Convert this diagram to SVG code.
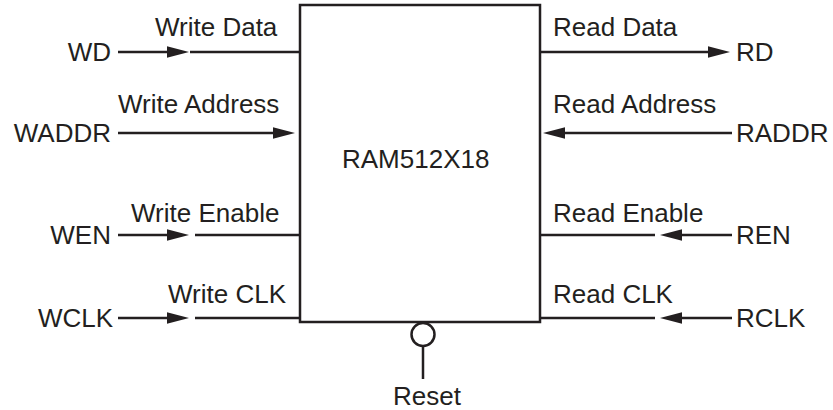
<svg xmlns="http://www.w3.org/2000/svg" width="833" height="410" viewBox="0 0 833 410">
<style>
text{font-family:"Liberation Sans",Arial,sans-serif;font-size:26px;fill:#231f20}
.w{stroke:#231f20;stroke-width:2.5;fill:none}
.e{text-anchor:end}
</style>
<defs>
<marker id="ah" markerUnits="userSpaceOnUse" markerWidth="23" markerHeight="12" refX="0" refY="5.75" orient="auto" overflow="visible">
<path d="M0,0 L22,5.75 L0,11.5 z" fill="#231f20"/>
</marker>
</defs>
<rect width="833" height="410" fill="#fff"/>
<g id="ram">
<rect x="300" y="5" width="240" height="317" class="w"/>
<text x="342" y="168">RAM512X18</text>
</g>
<g id="reset">
<circle cx="423" cy="334.5" r="11.5" class="w"/>
<text x="393" y="405">Reset</text>
</g>
<g id="wd"><text x="111" y="61" class="e">WD</text><text x="155" y="36">Write Data</text></g>
<g id="waddr"><text x="111" y="142" class="e">WADDR</text><text x="118" y="113">Write Address</text></g>
<g id="wen"><text x="111" y="244" class="e">WEN</text><text x="131" y="222">Write Enable</text></g>
<g id="wclk"><text x="113" y="327" class="e">WCLK</text><text x="168" y="303">Write CLK</text></g>
<g id="rd"><text x="736" y="61">RD</text><text x="553" y="36">Read Data</text></g>
<g id="raddr"><text x="736" y="142">RADDR</text><text x="553" y="113">Read Address</text></g>
<g id="ren"><text x="736" y="244">REN</text><text x="553" y="222">Read Enable</text></g>
<g id="rclk"><text x="736" y="327">RCLK</text><text x="553" y="303">Read CLK</text></g>
<g id="connectors">
<line x1="118" y1="52" x2="167" y2="52" class="w" marker-end="url(#ah)"/>
<line x1="190" y1="52" x2="300" y2="52" class="w"/>
<line x1="118" y1="133" x2="273" y2="133" class="w" marker-end="url(#ah)"/>
<line x1="118" y1="235" x2="167" y2="235" class="w" marker-end="url(#ah)"/>
<line x1="195" y1="235" x2="300" y2="235" class="w"/>
<line x1="118" y1="318" x2="167" y2="318" class="w" marker-end="url(#ah)"/>
<line x1="195" y1="318" x2="300" y2="318" class="w"/>
<line x1="540" y1="52" x2="708" y2="52" class="w" marker-end="url(#ah)"/>
<line x1="732" y1="133" x2="565" y2="133" class="w" marker-end="url(#ah)"/>
<line x1="732" y1="235" x2="682" y2="235" class="w" marker-end="url(#ah)"/>
<line x1="655" y1="235" x2="540" y2="235" class="w"/>
<line x1="732" y1="318" x2="682" y2="318" class="w" marker-end="url(#ah)"/>
<line x1="655" y1="318" x2="540" y2="318" class="w"/>
<line x1="423" y1="346" x2="423" y2="379" class="w"/>
</g>
</svg>
